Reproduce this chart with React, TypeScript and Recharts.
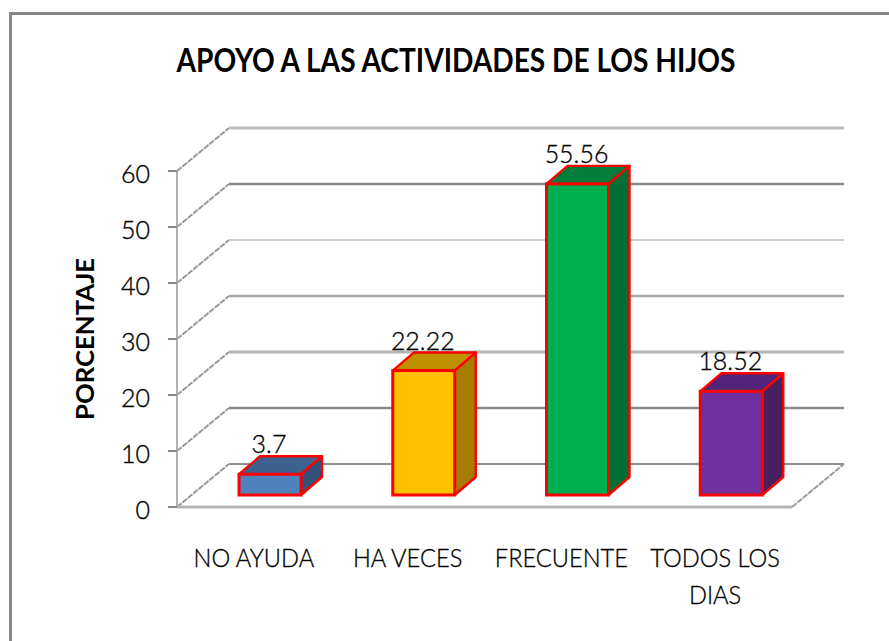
import React from "react";
import { BarChart, Bar, XAxis, YAxis, CartesianGrid, LabelList, Cell } from "recharts";

const categories = ["NO AYUDA", "HA VECES", "FRECUENTE", "TODOS LOS|DIAS"];
const values = [3.7, 22.22, 55.56, 18.52];
const yTicks = [0, 10, 20, 30, 40, 50, 60];
const frontColors = ["#4F81BD", "#FFC000", "#00B050", "#7030A0"];
const topColors = ["#3D628F", "#BF9000", "#007E39", "#52237A"];
const sideColors = ["#325078", "#A67C00", "#006F32", "#48205F"];

const data = categories.map((name, i) => ({ name, value: values[i] }));

const FONT = "Lato, 'Open Sans', sans-serif";
const WALL_DX = 52;
const WALL_DY = -43;
const BAR_DX = 21;
const BAR_DY = -18;
const BAR_SHIFT_X = 16;
const BAR_SHIFT_Y = -12;
const RED = "#FF0000";

// Line weight for each gridline, top to bottom (60 ... 0)
const gridWidths = [3, 2.6, 1.2, 2.6, 3, 2.6, 2.2];
const gridColors = ["#BEBEBE", "#8A8A8A", "#A0A0A0", "#A8A8A8", "#B4B4B4", "#8A8A8A", "#8E8E8E"];

const gridLine = (p: any) => {
  const i = Math.round((p.y1 - 171) / 56);
  const k = Math.max(0, Math.min(6, i));
  const last = k === 6;
  return (
    <g key={p.key ?? `g${p.index}`}>
      <line x1={p.x1} y1={p.y1} x2={p.x1 + WALL_DX} y2={p.y1 + WALL_DY} stroke="#9A9A9A" strokeWidth={2} strokeDasharray="6 1" />
      <line x1={p.x1 + WALL_DX} y1={p.y1 + WALL_DY} x2={p.x2 + WALL_DX} y2={p.y1 + WALL_DY} stroke={gridColors[k]} strokeWidth={gridWidths[k]} />
      {last && (
        <line x1={p.x2} y1={p.y1} x2={p.x2 + WALL_DX} y2={p.y1 + WALL_DY} stroke="#9A9A9A" strokeWidth={2} strokeDasharray="6 1" />
      )}
    </g>
  );
};

const Bar3D = (p: any) => {
  const x = p.x + BAR_SHIFT_X;
  const y = p.y + BAR_SHIFT_Y;
  const w = p.width;
  const h = p.height;
  const i = p.index;
  const top = `${x},${y} ${x + BAR_DX},${y + BAR_DY} ${x + w + BAR_DX},${y + BAR_DY} ${x + w},${y}`;
  const side = `${x + w},${y} ${x + w + BAR_DX},${y + BAR_DY} ${x + w + BAR_DX},${y + h + BAR_DY} ${x + w},${y + h}`;
  return (
    <g>
      <polygon points={top} fill={topColors[i]} stroke={RED} strokeWidth={2.4} strokeLinejoin="round" />
      <polygon points={side} fill={sideColors[i]} stroke={RED} strokeWidth={2.4} strokeLinejoin="round" />
      <rect x={x} y={y} width={w} height={h} fill={frontColors[i]} stroke={RED} strokeWidth={3} />
    </g>
  );
};

const inkStyle = { fill: "#000", stroke: "#000", strokeWidth: 0.35 };

const ValueLabel = (p: any) => {
  const cx = p.x + p.width / 2 + BAR_SHIFT_X - 1;
  const by = p.y + BAR_SHIFT_Y - 21;
  return (
    <text
      transform={`translate(${cx} ${by}) scale(0.96 1)`}
      textAnchor="middle"
      fontFamily={FONT}
      fontWeight={300}
      fontSize={26}
      {...inkStyle}
    >
      {p.value}
    </text>
  );
};

const CategoryTick = (p: any) => {
  const lines = String(p.payload.value).split("|");
  return (
    <g>
      {lines.map((l, i) => (
        <text
          key={l}
          transform={`translate(${p.x} ${567 + i * 37}) scale(0.91 1)`}
          textAnchor="middle"
          fontFamily={FONT}
          fontWeight={300}
          fontSize={26}
          {...inkStyle}
        >
          {l}
        </text>
      ))}
    </g>
  );
};

const ValueTick = (p: any) => (
  <text x={150} y={p.y + 12} textAnchor="end" fontFamily={FONT} fontWeight={300} fontSize={25} {...inkStyle}>
    {p.payload.value}
  </text>
);

export default function App() {
  return (
    <div style={{ position: "absolute", left: 0, top: 0, width: 889, height: 641, background: "#fff", overflow: "hidden" }}>
      <div style={{ position: "absolute", left: 9, top: 12, right: 0, bottom: 0, borderLeft: "3px solid #868686", borderTop: "3px solid #868686" }} />
      <div style={{ position: "absolute", left: 0, top: 0 }}>
        <BarChart
          width={889}
          height={641}
          data={data}
          barSize={62}
          margin={{ top: 171, right: 97, bottom: 84, left: 117 }}
        >
          <text x={456} y={72} textAnchor="middle" fontFamily={FONT} fontWeight={700} fontSize={32} fill="#000" textLength={559} lengthAdjust="spacingAndGlyphs">
            APOYO A LAS ACTIVIDADES DE LOS HIJOS
          </text>
          <text
            transform="translate(94 339) rotate(-90)"
            textAnchor="middle"
            fontFamily={FONT}
            fontWeight={700}
            fontSize={25}
            fill="#000"
            textLength={162}
            lengthAdjust="spacingAndGlyphs"
          >
            PORCENTAJE
          </text>
          <CartesianGrid horizontal={gridLine} vertical={false} />
          <XAxis
            dataKey="name"
            height={50}
            axisLine={{ stroke: "#B4B4B4", strokeWidth: 3 }}
            tickLine={false}
            interval={0}
            tick={<CategoryTick />}
          />
          <YAxis
            width={60}
            domain={[0, 60]}
            ticks={yTicks}
            interval={0}
            axisLine={{ stroke: "#B0B0B0", strokeWidth: 2 }}
            tickLine={{ stroke: "#8A8A8A", strokeWidth: 2 }}
            tickSize={9}
            tick={<ValueTick />}
          />
          <Bar dataKey="value" isAnimationActive={false} shape={<Bar3D />}>
            {data.map((d) => (
              <Cell key={d.name} />
            ))}
            <LabelList dataKey="value" content={<ValueLabel />} />
          </Bar>
        </BarChart>
      </div>
    </div>
  );
}
